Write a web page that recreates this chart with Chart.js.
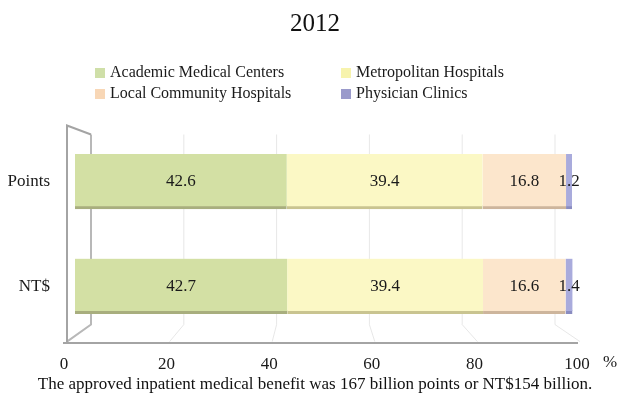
<!DOCTYPE html>
<html>
<head>
<meta charset="utf-8">
<script src="https://cdn.jsdelivr.net/npm/chart.js@4"></script>
<style>
  html, body { margin: 0; padding: 0; background: #fff; }
  #wrap { width: 630px; height: 401px; }
</style>
</head>
<body>
<div id="wrap"><canvas id="shareChart"></canvas></div>
<script>
// shares of inpatient benefit, %
const rowLabels = ["Points", "NT$"];
const seriesNames = ["Academic Medical Centers", "Metropolitan Hospitals", "Local Community Hospitals", "Physician Clinics"];
const academic = [42.6, 42.7];
const metropolitan = [39.4, 39.4];
const community = [16.8, 16.6];
const clinics = [1.2, 1.4];
const axisTicks = [0, 20, 40, 60, 80, 100];

const SERIF = "'Liberation Serif', 'DejaVu Serif', serif";
const faceColors = ["#d3e0a4", "#fbf8c5", "#fce6cc", "#a9abdc"];
const edgeColors = ["#a8ae7e", "#c9c490", "#cdb59c", "#8a8cc0"];
const keyColors = ["#cfdfa8", "#f7f3ad", "#f8d7b6", "#9a9acb"];

const datasets = [academic, metropolitan, community, clinics].map((vals, i) => ({
  label: seriesNames[i],
  data: vals,
  backgroundColor: faceColors[i],
  borderColor: edgeColors[i],
  borderWidth: { top: 0, left: 0, right: 0, bottom: 3 },
  borderSkipped: false,
  barThickness: 55,
  xAxisID: "x",
  yAxisID: "y"
}));

// walls, floor and back gridlines of the pseudo-3D frame
const framePlugin = {
  id: "frame",
  beforeDatasetsDraw(chart) {
    const { ctx, chartArea } = chart;
    const front = chart.scales.xTicks;
    const back = chart.scales.xBack;
    const top = chartArea.top, bottom = chartArea.bottom;
    ctx.save();
    // back gridlines + floor joins
    axisTicks.forEach((v, i) => {
      const bx = back.getPixelForValue(v);
      const fx = front.getPixelForValue(v) + 3;
      ctx.strokeStyle = i === 0 ? "#b8b8b8" : "rgba(215,215,215,0.6)";
      ctx.lineWidth = i === 0 ? 2 : 1;
      ctx.beginPath();
      ctx.moveTo(bx, top + 5.5);
      ctx.lineTo(bx, bottom - 14);
      ctx.lineTo(fx, bottom + 3);
      ctx.stroke();
    });
    // left wall outline
    const wx = front.getPixelForValue(0) + 3;
    const bx0 = back.getPixelForValue(0);
    ctx.strokeStyle = "#a4a4a4";
    ctx.lineWidth = 2;
    ctx.beginPath();
    ctx.moveTo(bx0, top + 5.5);
    ctx.lineTo(wx, top - 3.5);
    ctx.lineTo(wx, bottom + 4.5);
    ctx.stroke();
    // floor front edge
    ctx.beginPath();
    ctx.moveTo(front.getPixelForValue(0) - 1, bottom + 4.5);
    ctx.lineTo(front.getPixelForValue(100) + 1, bottom + 4.5);
    ctx.stroke();
    ctx.restore();
  },
  afterDatasetsDraw(chart) {
    const { ctx } = chart;
    ctx.save();
    ctx.font = "17px " + SERIF;
    ctx.fillStyle = "#1a1a1a";
    ctx.textAlign = "center";
    ctx.textBaseline = "middle";
    chart.data.datasets.forEach((ds, di) => {
      chart.getDatasetMeta(di).data.forEach((bar, i) => {
        const cx = (bar.x + bar.base) / 2;
        ctx.fillText(ds.data[i].toFixed(1), cx, bar.y);
      });
    });
    ctx.restore();
  },
  afterDraw(chart) {
    const { ctx } = chart;
    const front = chart.scales.xTicks;
    ctx.save();
    // unit mark after the last tick
    ctx.font = "17px " + SERIF;
    ctx.fillStyle = "#1a1a1a";
    ctx.textAlign = "center";
    ctx.textBaseline = "middle";
    ctx.fillText("%", front.getPixelForValue(100) + 33, front.top + 24);
    // two-column key
    const colX = [95, 341];
    const rowY = [73, 94];
    ctx.font = "16px " + SERIF;
    ctx.textAlign = "left";
    chart.data.datasets.forEach((ds, i) => {
      const x = colX[i % 2];
      const y = rowY[Math.floor(i / 2)];
      ctx.fillStyle = keyColors[i];
      ctx.fillRect(x, y - 5, 10, 10);
      ctx.fillStyle = "#1a1a1a";
      ctx.fillText(ds.label, x + 15, y);
    });
    ctx.restore();
  }
};

new Chart(document.getElementById("shareChart"), {
  type: "bar",
  data: { labels: rowLabels, datasets: datasets },
  plugins: [framePlugin],
  options: {
    indexAxis: "y",
    responsive: true,
    maintainAspectRatio: false,
    animation: false,
    layout: { padding: 0 },
    plugins: {
      legend: { display: false },
      tooltip: { enabled: false },
      title: {
        display: true,
        text: "2012",
        color: "#111",
        font: { family: SERIF, size: 25, weight: "normal" },
        padding: { top: 9, bottom: 90 }
      },
      subtitle: {
        display: true,
        position: "bottom",
        text: "The approved inpatient medical benefit was 167 billion points or NT$154 billion.",
        color: "#111",
        font: { family: SERIF, size: 17, weight: "normal" },
        padding: { top: 4, bottom: 6 }
      }
    },
    scales: {
      x: {
        type: "linear",
        stacked: true,
        display: false,
        min: -2.213,
        max: 101.006
      },
      xTicks: {
        type: "linear",
        position: "bottom",
        min: 0,
        max: 100,
        grid: { display: false, drawTicks: false },
        border: { display: false },
        ticks: {
          stepSize: 20,
          padding: 16,
          color: "#1a1a1a",
          font: { family: SERIF, size: 17 }
        },
        afterFit(scale) { scale.height = 32; }
      },
      xBack: {
        type: "linear",
        display: false,
        min: -5.819,
        max: 104.741
      },
      y: {
        type: "category",
        stacked: true,
        grid: { display: false, drawTicks: false },
        border: { display: false },
        ticks: {
          padding: 14,
          color: "#1a1a1a",
          font: { family: SERIF, size: 17 }
        },
        afterFit(scale) { scale.width = 64; }
      },
      yRight: {
        type: "linear",
        position: "right",
        grid: { display: false, drawTicks: false },
        border: { display: false },
        ticks: { display: false },
        afterFit(scale) { scale.width = 53; }
      }
    }
  }
});
</script>
</body>
</html>
